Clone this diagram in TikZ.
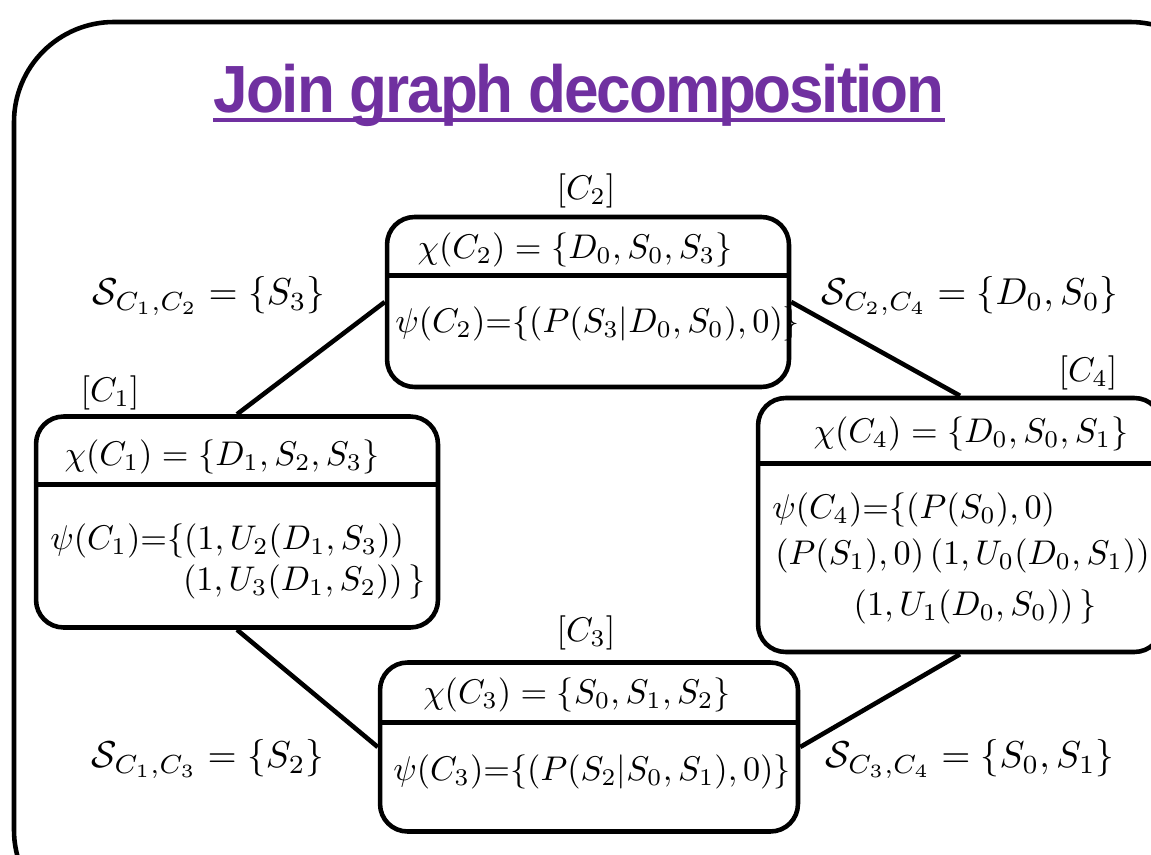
\documentclass[tikz,border=0pt]{standalone}
\usepackage{amsmath}
\usepackage[no-math]{fontspec}
\usepackage{graphicx}
\usepackage{tikz}
\usetikzlibrary{positioning, calc}
\newfontfamily\titlefont{Liberation Sans}
\definecolor{jgpurple}{RGB}{112,48,160}
% math set at 10pt, then blown up
\newcommand{\jgmath}[2][1.95]{\scalebox{#1}{$#2$}}

\begin{document}
\begin{tikzpicture}[
    x=0.02cm, y=-0.02cm,
    every node/.style={inner sep=0pt},
    cluster/.style={draw, rounded corners=0.55cm, line width=2.6pt, minimum width=8.04cm},
    link/.style={line width=2.6pt},
]
    \useasboundingbox (0,0) rectangle (1151,854);
    \clip (0,0) rectangle (1151,854);
    \draw[line width=2.6pt, rounded corners=2cm] (14,22) rectangle (1230,930);

    % title
    \node[font=\titlefont\bfseries\fontsize{38}{44}\selectfont\addfontfeature{LetterSpace=-3.5}, text=jgpurple, anchor=base] (title) at (579,113)
        {\scalebox{0.93}[1]{Join graph decomposition}};
    \draw[jgpurple, line width=2.8pt] ([yshift=-0.14cm]title.base west) -- ([yshift=-0.14cm]title.base east);

    % clusters
    \node[cluster, minimum height=3.4cm] (c2) at (588,302) {};
    \node[cluster, minimum height=4.22cm] (c1) at (237,522) {};
    \node[cluster, minimum height=5.08cm, minimum width=8.08cm] (c4) at (960,525) {};
    \node[cluster, minimum height=3.38cm, minimum width=8.36cm] (c3) at (589,747) {};

    \draw[link] ([yshift=-1.22cm]c2.north west) -- ([yshift=-1.22cm]c2.north east);
    \draw[link] ([yshift=-1.4cm]c1.north west) -- ([yshift=-1.4cm]c1.north east);
    \draw[link] ([yshift=-1.36cm]c4.north west) -- ([yshift=-1.36cm]c4.north east);
    \draw[link] ([yshift=-1.24cm]c3.north west) -- ([yshift=-1.24cm]c3.north east);

    \node (n2) at (586,191) {\jgmath{[C_2]}};
    \node (n1) at (110,393) {\jgmath{[C_1]}};
    \node (n4) at (1088,373) {\jgmath{[C_4]}};
    \node (n3) at (586,633) {\jgmath{[C_3]}};

    % cluster contents
    \node (chi2) at (575,250) {\jgmath{\chi(C_2) = \{D_0, S_0, S_3\}}};
    \node[anchor=west] (psi2) at (395,324) {\jgmath{\psi(C_2){=}\{(P(S_3|D_0,S_0),0)\}}};

    \node (chi1) at (222,457) {\jgmath{\chi(C_1) = \{D_1, S_2, S_3\}}};
    \node[anchor=west] (psi1a) at (50,541) {\jgmath{\psi(C_1){=}\{(1,U_2(D_1,S_3))}};
    \node[anchor=east] (psi1b) at (426,582) {\jgmath{(1,U_3(D_1,S_2))\,\}}};

    \node (chi4) at (971,434) {\jgmath{\chi(C_4) = \{D_0, S_0, S_1\}}};
    \node[anchor=west] (psi4a) at (772,510) {\jgmath{\psi(C_4){=}\{(P(S_0),0)}};
    \node[anchor=west] (psi4b) at (775,556) {\jgmath{(P(S_1),0)\,(1,U_0(D_0,S_1))}};
    \node (psi4c) at (975,607) {\jgmath{(1,U_1(D_0,S_0))\,\}}};

    \node (chi3) at (577,695) {\jgmath{\chi(C_3) = \{S_0, S_1, S_2\}}};
    \node[anchor=west] (psi3) at (393,772) {\jgmath{\psi(C_3){=}\{(P(S_2|S_0,S_1),0)\}}};

    % separators
    \node (s12) at (209,296) {\jgmath[2.13]{\mathcal{S}_{C_1,C_2} = \{S_3\}}};
    \node (s24) at (970,296) {\jgmath[2.13]{\mathcal{S}_{C_2,C_4} = \{D_0,S_0\}}};
    \node (s13) at (208,759) {\jgmath[2.13]{\mathcal{S}_{C_1,C_3} = \{S_2\}}};
    \node (s34) at (970,759) {\jgmath[2.13]{\mathcal{S}_{C_3,C_4} = \{S_0,S_1\}}};

    % edges
    \draw[link] (c1.north) -- (c2.west);
    \draw[link] (c2.east) -- (c4.north);
    \draw[link] (c1.south) -- (c3.west);
    \draw[link] (c3.east) -- (c4.south);
\end{tikzpicture}
\end{document}
